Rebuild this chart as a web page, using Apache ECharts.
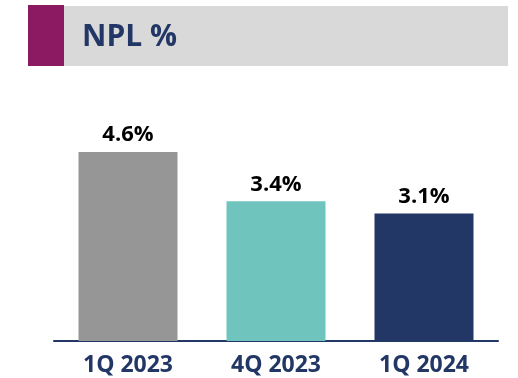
<!DOCTYPE html>
<html>
<head>
<meta charset="utf-8">
<script src="https://cdn.jsdelivr.net/npm/echarts@6/dist/echarts.min.js"></script>
<style>
  html, body { margin: 0; padding: 0; background: #ffffff; }
  #chart { width: 518px; height: 378px; }
</style>
</head>
<body>
<div id="chart"></div>
<script>
// Non-performing loan ratio by quarter
const titleText = 'NPL %';
const quarters = ['1Q 2023', '4Q 2023', '1Q 2024'];
const nplValues = [4.6, 3.4, 3.1];
const barColors = ['#969696', '#70c4be', '#223766'];

const navy = '#223766';
const font = '"Open Sans", "Liberation Sans", sans-serif';

const chart = echarts.init(document.getElementById('chart'), null, { renderer: 'canvas' });

chart.setOption({
  animation: false,
  backgroundColor: '#ffffff',
  graphic: [
    { type: 'rect', shape: { x: 64, y: 6, width: 444, height: 60 }, style: { fill: '#d9d9d9' } },
    { type: 'rect', shape: { x: 28, y: 5, width: 36, height: 61 }, style: { fill: '#8b1a62' } },
    {
      type: 'text', x: 82, y: 37.5,
      style: {
        text: titleText, fill: navy,
        font: 'bold 30px ' + font,
        textAlign: 'left', textVerticalAlign: 'middle'
      }
    }
  ],
  grid: { left: 54, right: 20, top: 135.5, bottom: 37, containLabel: false },
  xAxis: {
    type: 'category',
    data: quarters,
    axisLine: { show: true, lineStyle: { color: navy, width: 2 } },
    axisTick: { show: false },
    axisLabel: {
      color: navy, fontFamily: font, fontWeight: 'bold', fontSize: 23, margin: 13
    }
  },
  yAxis: {
    type: 'value', min: 0, max: 5,
    show: false,
    splitLine: { show: false }
  },
  series: [{
    type: 'bar',
    barWidth: 99,
    data: nplValues.map((v, i) => ({ value: v, itemStyle: { color: barColors[i] } })),
    label: {
      show: true, position: 'top', distance: 6,
      formatter: p => p.value.toFixed(1) + '%',
      color: '#000000', fontFamily: font, fontWeight: 'bold', fontSize: 22
    }
  }]
});
</script>
</body>
</html>
